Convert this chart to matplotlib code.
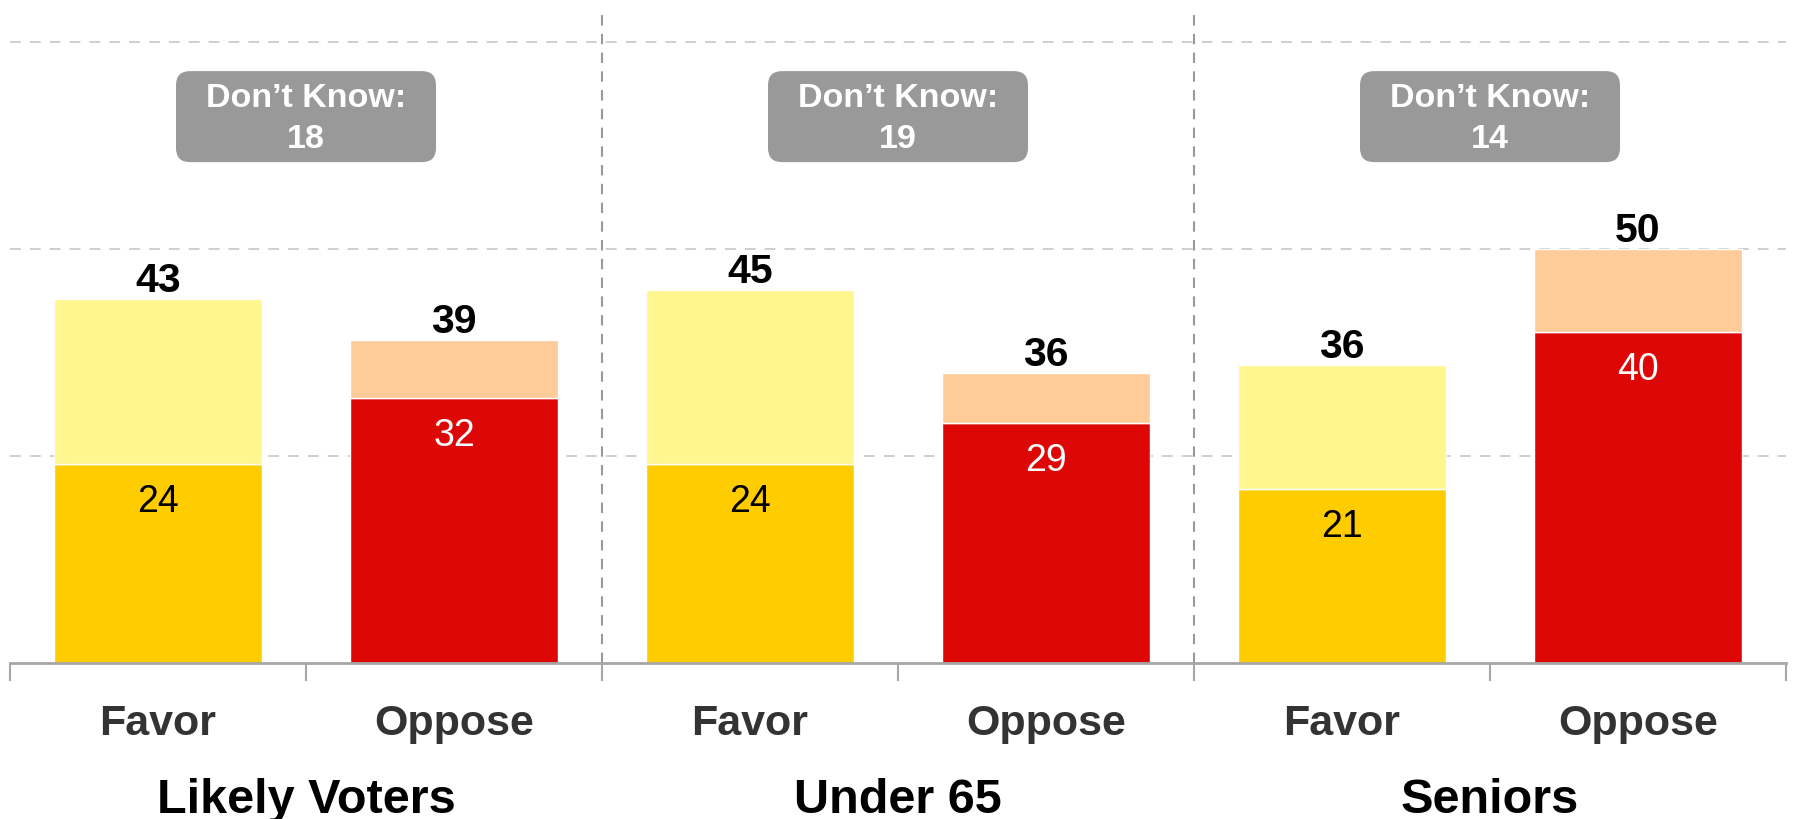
import matplotlib
matplotlib.use("Agg")
import matplotlib.pyplot as plt
from matplotlib.patches import FancyBboxPatch
from matplotlib.transforms import IdentityTransform

plt.rcParams["font.family"] = ["Liberation Sans", "DejaVu Sans"]

# survey data
groups = ["Likely Voters", "Under 65", "Seniors"]
answers = ["Favor", "Oppose"]
strong = [24, 32, 24, 29, 21, 40]
somewhat = [20, 7, 21, 6, 15, 10]
totals = [43, 39, 45, 36, 36, 50]
dont_know = [18, 19, 14]

strong_colors = ["#FFCC00", "#DD0806"] * 3
light_colors = ["#FFF68F", "#FFCC99"] * 3
inner_text = ["black", "white"] * 3

W, H, DPI = 1795, 820, 100
fig = plt.figure(figsize=(W / DPI, H / DPI), dpi=DPI, facecolor="white")
ax = fig.add_axes([10 / W, 156 / H, 1776 / W, 654 / H])

x = list(range(len(strong)))
tops = [s + w for s, w in zip(strong, somewhat)]
ax.bar(x, strong, width=0.706, color=strong_colors, edgecolor="white",
       linewidth=1, zorder=3)
ax.bar(x, somewhat, bottom=strong, width=0.706, color=light_colors,
       edgecolor="white", linewidth=1, zorder=3)

ax.set_xlim(-0.5, 5.5)
ax.set_ylim(0, 79)

# grid + axis styling
ax.set_yticks([25, 50, 75])
ax.yaxis.grid(True, linestyle=(0, (6, 5)), color="#cccccc", linewidth=1.3, zorder=0)
ax.tick_params(axis="y", length=0, labelleft=False)
ax.set_xticks([i - 0.5 for i in range(len(x) + 1)])
ax.set_xticklabels([])
ax.tick_params(axis="x", length=13, width=1.5, color="#a6a6a6", direction="out")
for side in ["top", "right", "left"]:
    ax.spines[side].set_visible(False)
ax.spines["bottom"].set_color("#a6a6a6")
ax.spines["bottom"].set_linewidth(2)
ax.spines["bottom"].set_zorder(4)

for d in [1.5, 3.5]:
    ax.axvline(d, linestyle=(0, (5, 4)), color="#999999", linewidth=1.5, zorder=2)

# value labels
for i in x:
    ax.annotate(str(strong[i]), xy=(i, strong[i]), xytext=(0, -47),
                textcoords="offset pixels", ha="center", va="baseline",
                fontsize=27, color=inner_text[i], zorder=5)
    ax.annotate(str(totals[i]), xy=(i, tops[i]), xytext=(0, 8),
                textcoords="offset pixels", ha="center", va="baseline",
                fontsize=29.5, fontweight="bold", color="black", zorder=5)
    ax.annotate(answers[i % 2], xy=(i, 0), xytext=(0, -71),
                textcoords="offset pixels", ha="center", va="baseline",
                fontsize=31, fontweight="bold", color="#333333",
                annotation_clip=False)

# group labels and don't know boxes
for g, name in enumerate(groups):
    gx = 2 * g + 0.5
    ax.annotate(name, xy=(gx, 0), xytext=(0, -149), textcoords="offset pixels",
                ha="center", va="baseline", fontsize=35, fontweight="bold",
                color="black", annotation_clip=False)
    cx, cy = ax.transData.transform((gx, 66))
    box = FancyBboxPatch((cx - 130, cy - 45.5), 260, 91,
                         boxstyle="round,pad=0,rounding_size=14",
                         transform=IdentityTransform(), facecolor="#999999",
                         edgecolor="none", zorder=4, clip_on=False)
    ax.add_artist(box)
    ax.text(gx, 65.8, f"Don\u2019t Know:\n{dont_know[g]}", ha="center", va="center",
            color="white", fontsize=24.5, fontweight="bold", linespacing=1.42,
            zorder=5)

fig.savefig("out.png", dpi=DPI, facecolor="white")
